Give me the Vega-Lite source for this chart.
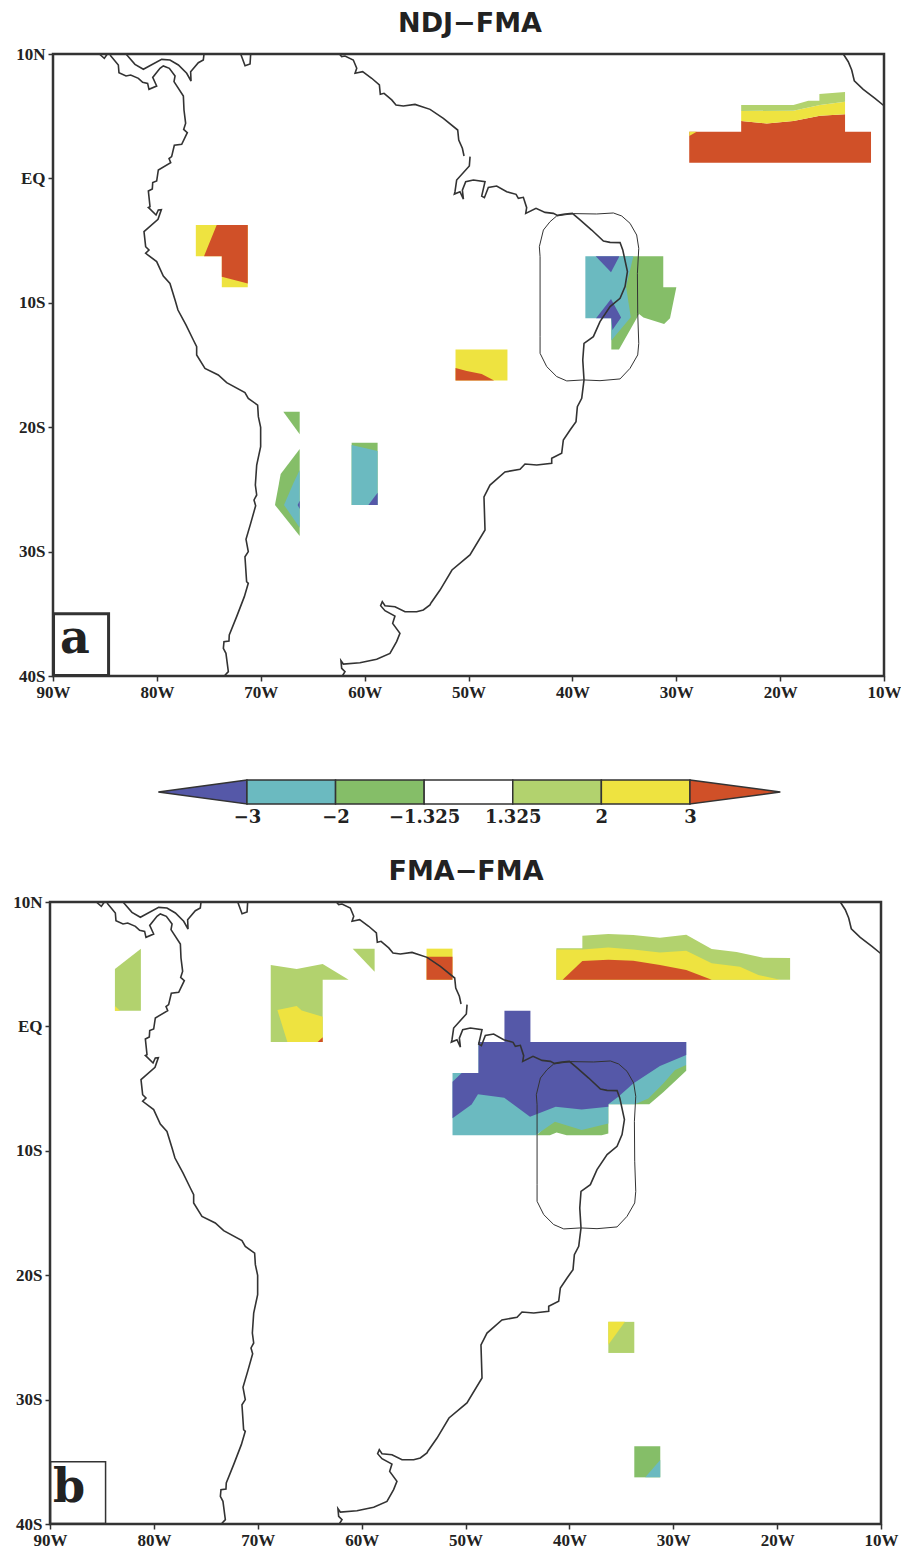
{"$schema":"https://vega.github.io/schema/vega-lite/v6.json","background":"white","padding":{"left":0,"top":10,"right":0,"bottom":0},"align":"none","bounds":"full","spacing":20,"config":{"view":{"stroke":null},"axis":{"domain":false,"tickColor":"#333","tickWidth":1.5,"tickSize":5,"labelFont":"Liberation Serif","labelFontWeight":"bold","labelFontSize":17,"labelColor":"#222","labelPadding":3,"title":null,"grid":false,"labelOverlap":false,"labelBound":false,"labelFlush":false},"title":{"font":"DejaVu Sans","fontWeight":"bold","fontSize":27,"color":"#222","anchor":"middle","offset":7}},"datasets":{"frame":[{"x":-90,"y":10},{"x":-10,"y":10},{"x":-10,"y":-40},{"x":-90,"y":-40}],"coast":[{"g":"isl","x":-85.54,"y":10},{"g":"isl","x":-85.06,"y":9.65},{"g":"isl","x":-84.77,"y":10},{"g":"pac","x":-84.51,"y":9.92},{"g":"pac","x":-83.71,"y":9.12},{"g":"pac","x":-83.65,"y":8.5},{"g":"pac","x":-82.97,"y":8.23},{"g":"pac","x":-82.52,"y":8.31},{"g":"pac","x":-81.78,"y":8.04},{"g":"pac","x":-81.37,"y":7.72},{"g":"pac","x":-80.89,"y":7.64},{"g":"pac","x":-80.76,"y":7.16},{"g":"pac","x":-80.02,"y":7.43},{"g":"pac","x":-80.4,"y":8.12},{"g":"pac","x":-79.7,"y":8.85},{"g":"pac","x":-79.38,"y":9.04},{"g":"pac","x":-78.8,"y":8.85},{"g":"pac","x":-78.25,"y":8.23},{"g":"pac","x":-78.35,"y":7.78},{"g":"pac","x":-77.45,"y":6.62},{"g":"pac","x":-77.39,"y":5.5},{"g":"pac","x":-77.23,"y":4.43},{"g":"pac","x":-77.42,"y":3.94},{"g":"pac","x":-77.07,"y":3.68},{"g":"pac","x":-77.61,"y":2.74},{"g":"pac","x":-78.32,"y":2.66},{"g":"pac","x":-78.58,"y":1.75},{"g":"pac","x":-78.83,"y":1.59},{"g":"pac","x":-78.67,"y":1.26},{"g":"pac","x":-79.86,"y":0.68},{"g":"pac","x":-80.02,"y":-0.21},{"g":"pac","x":-80.4,"y":-0.34},{"g":"pac","x":-80.44,"y":-0.85},{"g":"pac","x":-80.82,"y":-1.01},{"g":"pac","x":-80.66,"y":-2.27},{"g":"pac","x":-80.82,"y":-2.33},{"g":"pac","x":-80.08,"y":-2.94},{"g":"pac","x":-79.86,"y":-2.54},{"g":"pac","x":-79.57,"y":-2.51},{"g":"pac","x":-79.89,"y":-3.29},{"g":"pac","x":-81.24,"y":-4.28},{"g":"pac","x":-81.08,"y":-5.49},{"g":"pac","x":-80.76,"y":-5.76},{"g":"pac","x":-81.08,"y":-6.02},{"g":"pac","x":-80.02,"y":-6.69},{"g":"pac","x":-79.38,"y":-7.85},{"g":"pac","x":-78.74,"y":-8.44},{"g":"pac","x":-78.25,"y":-9.77},{"g":"pac","x":-77.97,"y":-10.58},{"g":"pac","x":-77.2,"y":-11.78},{"g":"pac","x":-76.49,"y":-12.99},{"g":"pac","x":-76.17,"y":-13.53},{"g":"pac","x":-76.17,"y":-14.2},{"g":"pac","x":-75.37,"y":-15.27},{"g":"pac","x":-74.09,"y":-15.8},{"g":"pac","x":-73.28,"y":-16.42},{"g":"pac","x":-71.52,"y":-17.22},{"g":"pac","x":-71.2,"y":-17.68},{"g":"pac","x":-70.3,"y":-18.22},{"g":"pac","x":-70.23,"y":-19.15},{"g":"pac","x":-70.01,"y":-20.01},{"g":"pac","x":-70.01,"y":-21.56},{"g":"pac","x":-70.39,"y":-23.04},{"g":"pac","x":-70.52,"y":-24.65},{"g":"pac","x":-70.39,"y":-25.45},{"g":"pac","x":-70.65,"y":-25.85},{"g":"pac","x":-70.49,"y":-26.31},{"g":"pac","x":-70.97,"y":-27.73},{"g":"pac","x":-71.42,"y":-29.01},{"g":"pac","x":-71.2,"y":-30},{"g":"pac","x":-71.52,"y":-30.41},{"g":"pac","x":-71.36,"y":-32.42},{"g":"pac","x":-71.2,"y":-32.55},{"g":"pac","x":-71.58,"y":-33.62},{"g":"pac","x":-72.32,"y":-35.23},{"g":"pac","x":-73.03,"y":-36.7},{"g":"pac","x":-73.06,"y":-37.19},{"g":"pac","x":-73.54,"y":-37.24},{"g":"pac","x":-73.6,"y":-37.78},{"g":"pac","x":-73.35,"y":-38.18},{"g":"pac","x":-73.12,"y":-39.65},{"g":"pac","x":-73.51,"y":-40},{"g":"car","x":-82.97,"y":10},{"g":"car","x":-82.11,"y":9.17},{"g":"car","x":-81.3,"y":8.77},{"g":"car","x":-79.54,"y":9.57},{"g":"car","x":-78.74,"y":9.52},{"g":"car","x":-77.93,"y":9.12},{"g":"car","x":-77.13,"y":8.45},{"g":"car","x":-76.71,"y":7.83},{"g":"car","x":-76.75,"y":8.58},{"g":"car","x":-76.01,"y":9.3},{"g":"car","x":-75.53,"y":9.52},{"g":"car","x":-75.46,"y":10},{"g":"mar","x":-71.93,"y":10},{"g":"mar","x":-71.51,"y":9.06},{"g":"mar","x":-71.03,"y":9.2},{"g":"mar","x":-70.97,"y":10},{"g":"ven","x":-62.43,"y":10},{"g":"ven","x":-62.21,"y":9.79},{"g":"ven","x":-61.89,"y":9.84},{"g":"ven","x":-61.09,"y":9.52},{"g":"ven","x":-60.76,"y":8.85},{"g":"ven","x":-60.92,"y":8.45},{"g":"ven","x":-60.19,"y":8.58},{"g":"ven","x":-59.32,"y":8.05},{"g":"ven","x":-58.58,"y":7.51},{"g":"ven","x":-58.49,"y":6.76},{"g":"ven","x":-58.13,"y":6.84},{"g":"ven","x":-57.39,"y":6.31},{"g":"ven","x":-56.98,"y":5.9},{"g":"ven","x":-56.27,"y":5.82},{"g":"ven","x":-55.15,"y":5.95},{"g":"ven","x":-53.7,"y":5.55},{"g":"ven","x":-52.42,"y":4.83},{"g":"ven","x":-51.04,"y":3.89},{"g":"ven","x":-50.94,"y":3.09},{"g":"ven","x":-50.59,"y":2.42},{"g":"ven","x":-50.43,"y":1.8},{"g":"bra","x":-49.85,"y":1.75},{"g":"bra","x":-49.92,"y":1},{"g":"bra","x":-51.14,"y":-0.13},{"g":"bra","x":-51.3,"y":-1.07},{"g":"bra","x":-51.36,"y":-1.26},{"g":"bra","x":-50.82,"y":-1.07},{"g":"bra","x":-50.49,"y":-1.66},{"g":"bra","x":-50.59,"y":-0.94},{"g":"bra","x":-50.27,"y":-0.26},{"g":"bra","x":-49.53,"y":-0.13},{"g":"bra","x":-48.41,"y":-0.26},{"g":"bra","x":-48.73,"y":-1.42},{"g":"bra","x":-48.47,"y":-1.55},{"g":"bra","x":-48.09,"y":-0.72},{"g":"bra","x":-47.29,"y":-0.61},{"g":"bra","x":-46.32,"y":-1.07},{"g":"bra","x":-45.42,"y":-1.28},{"g":"bra","x":-45.2,"y":-1.6},{"g":"bra","x":-44.72,"y":-1.52},{"g":"bra","x":-44.4,"y":-2.35},{"g":"bra","x":-44.49,"y":-2.81},{"g":"bra","x":-43.5,"y":-2.41},{"g":"bra","x":-42.63,"y":-2.73},{"g":"bra","x":-41.83,"y":-2.81},{"g":"bra","x":-41.44,"y":-2.97},{"g":"bra","x":-40.71,"y":-2.86},{"g":"bra","x":-40,"y":-2.81},{"g":"bra","x":-39.26,"y":-3.34},{"g":"bra","x":-38.14,"y":-4.15},{"g":"bra","x":-37.01,"y":-5.03},{"g":"bra","x":-36.37,"y":-5.14},{"g":"bra","x":-35.41,"y":-5.16},{"g":"bra","x":-35.15,"y":-5.75},{"g":"bra","x":-34.7,"y":-7.49},{"g":"bra","x":-34.93,"y":-8.7},{"g":"bra","x":-35.41,"y":-9.64},{"g":"bra","x":-36.37,"y":-10.31},{"g":"bra","x":-37.34,"y":-11.51},{"g":"bra","x":-37.98,"y":-12.72},{"g":"bra","x":-38.88,"y":-13.26},{"g":"bra","x":-39,"y":-14.6},{"g":"bra","x":-38.88,"y":-16.2},{"g":"bra","x":-39.1,"y":-17.68},{"g":"bra","x":-39.52,"y":-18.35},{"g":"bra","x":-39.65,"y":-19.55},{"g":"bra","x":-40.22,"y":-20.22},{"g":"bra","x":-40.87,"y":-21.03},{"g":"bra","x":-41.03,"y":-22.1},{"g":"bra","x":-41.99,"y":-22.5},{"g":"bra","x":-41.99,"y":-22.9},{"g":"bra","x":-43.43,"y":-23.04},{"g":"bra","x":-44.56,"y":-22.96},{"g":"bra","x":-45.04,"y":-23.38},{"g":"bra","x":-46.49,"y":-23.6},{"g":"bra","x":-47.93,"y":-24.65},{"g":"bra","x":-48.51,"y":-25.61},{"g":"bra","x":-48.41,"y":-28.26},{"g":"bra","x":-49.86,"y":-30.27},{"g":"bra","x":-51.59,"y":-31.48},{"g":"bra","x":-52.74,"y":-33.09},{"g":"bra","x":-53.61,"y":-34.13},{"g":"bra","x":-53.71,"y":-34.29},{"g":"bra","x":-54.35,"y":-34.69},{"g":"bra","x":-54.99,"y":-34.83},{"g":"bra","x":-56.11,"y":-34.83},{"g":"bra","x":-57.08,"y":-34.43},{"g":"bra","x":-58.04,"y":-34.35},{"g":"bra","x":-58.3,"y":-34.02},{"g":"bra","x":-58.46,"y":-34.35},{"g":"bra","x":-58.04,"y":-34.75},{"g":"bra","x":-57.08,"y":-35.18},{"g":"bra","x":-57.3,"y":-35.77},{"g":"bra","x":-56.6,"y":-36.57},{"g":"bra","x":-56.92,"y":-37.24},{"g":"bra","x":-57.56,"y":-38.18},{"g":"bra","x":-58.84,"y":-38.66},{"g":"bra","x":-60.45,"y":-38.93},{"g":"bra","x":-62.05,"y":-39.04},{"g":"bra","x":-62.28,"y":-38.77},{"g":"bra","x":-62.21,"y":-39.38},{"g":"bra","x":-61.89,"y":-39.65},{"g":"bra","x":-62.15,"y":-40},{"g":"afr","x":-13.92,"y":10},{"g":"afr","x":-13.44,"y":9.38},{"g":"afr","x":-13.11,"y":8.71},{"g":"afr","x":-12.86,"y":7.85},{"g":"afr","x":-12,"y":7.16},{"g":"afr","x":-10.87,"y":6.44},{"g":"afr","x":-10,"y":5.84}],"region":[{"x":-41.51,"y":-3.02},{"x":-39.9,"y":-2.83},{"x":-37.66,"y":-2.86},{"x":-36.05,"y":-2.78},{"x":-35.25,"y":-3.02},{"x":-34.45,"y":-3.61},{"x":-33.81,"y":-4.55},{"x":-33.61,"y":-5.62},{"x":-33.74,"y":-7.63},{"x":-33.71,"y":-10.84},{"x":-33.61,"y":-13.26},{"x":-33.71,"y":-14.19},{"x":-34.45,"y":-15.27},{"x":-35.41,"y":-16.12},{"x":-37.34,"y":-16.26},{"x":-38.94,"y":-16.2},{"x":-40.54,"y":-16.28},{"x":-41.51,"y":-15.93},{"x":-42.47,"y":-15.13},{"x":-43.11,"y":-14.06},{"x":-43.11,"y":-12.72},{"x":-43.11,"y":-6.29},{"x":-43.18,"y":-5.49},{"x":-42.79,"y":-4.15},{"x":-42.15,"y":-3.48}],"labelbox":[{"x":-89.95,"y":-35},{"x":-84.65,"y":-35},{"x":-84.65,"y":-39.95},{"x":-89.95,"y":-39.95}],"shapesA":[{"g":"a1","c":"y","x":-76.25,"y":-3.75},{"g":"a1","c":"y","x":-71.25,"y":-3.75},{"g":"a1","c":"y","x":-71.25,"y":-8.75},{"g":"a1","c":"y","x":-73.75,"y":-8.75},{"g":"a1","c":"y","x":-73.75,"y":-6.25},{"g":"a1","c":"y","x":-76.25,"y":-6.25},{"g":"a2","c":"r","x":-74.24,"y":-3.75},{"g":"a2","c":"r","x":-71.25,"y":-3.75},{"g":"a2","c":"r","x":-71.25,"y":-8.44},{"g":"a2","c":"r","x":-73.75,"y":-7.9},{"g":"a2","c":"r","x":-73.75,"y":-6.25},{"g":"a2","c":"r","x":-75.46,"y":-6.25},{"g":"a3","c":"y","x":-51.25,"y":-13.75},{"g":"a3","c":"y","x":-46.25,"y":-13.75},{"g":"a3","c":"y","x":-46.25,"y":-16.25},{"g":"a3","c":"y","x":-51.25,"y":-16.25},{"g":"a4","c":"r","x":-51.25,"y":-15.24},{"g":"a4","c":"r","x":-50.17,"y":-15.48},{"g":"a4","c":"r","x":-48.73,"y":-15.72},{"g":"a4","c":"r","x":-47.54,"y":-16.25},{"g":"a4","c":"r","x":-51.25,"y":-16.25},{"g":"a5","c":"g","x":-35.41,"y":-6.25},{"g":"a5","c":"g","x":-31.25,"y":-6.25},{"g":"a5","c":"g","x":-31.25,"y":-8.75},{"g":"a5","c":"g","x":-29.99,"y":-8.75},{"g":"a5","c":"g","x":-30.6,"y":-11.25},{"g":"a5","c":"g","x":-31.17,"y":-11.7},{"g":"a5","c":"g","x":-33.16,"y":-11.19},{"g":"a5","c":"g","x":-33.58,"y":-10.9},{"g":"a5","c":"g","x":-35.51,"y":-13.75},{"g":"a5","c":"g","x":-36.25,"y":-13.75},{"g":"a5","c":"g","x":-36.25,"y":-11.25},{"g":"a5","c":"g","x":-35.41,"y":-11.25},{"g":"a6","c":"t","x":-38.75,"y":-6.25},{"g":"a6","c":"t","x":-34.13,"y":-6.25},{"g":"a6","c":"t","x":-34.83,"y":-8.7},{"g":"a6","c":"t","x":-34.38,"y":-11.17},{"g":"a6","c":"t","x":-36.25,"y":-13.04},{"g":"a6","c":"t","x":-36.25,"y":-11.25},{"g":"a6","c":"t","x":-38.75,"y":-11.25},{"g":"a7","c":"b","x":-37.75,"y":-6.25},{"g":"a7","c":"b","x":-35.47,"y":-6.25},{"g":"a7","c":"b","x":-36.28,"y":-7.55},{"g":"a8","c":"b","x":-37.72,"y":-11.25},{"g":"a8","c":"b","x":-36.28,"y":-9.69},{"g":"a8","c":"b","x":-35.31,"y":-11.19},{"g":"a8","c":"b","x":-36.15,"y":-12.18},{"g":"a8","c":"b","x":-36.25,"y":-11.25},{"g":"a9","c":"r","x":-28.75,"y":3.75},{"g":"a9","c":"r","x":-23.75,"y":3.75},{"g":"a9","c":"r","x":-23.75,"y":4.61},{"g":"a9","c":"r","x":-21.29,"y":4.42},{"g":"a9","c":"r","x":-18.72,"y":4.61},{"g":"a9","c":"r","x":-16.16,"y":5.04},{"g":"a9","c":"r","x":-13.75,"y":5.15},{"g":"a9","c":"r","x":-13.75,"y":3.75},{"g":"a9","c":"r","x":-11.25,"y":3.75},{"g":"a9","c":"r","x":-11.25,"y":1.25},{"g":"a9","c":"r","x":-28.75,"y":1.25},{"g":"a10","c":"y","x":-28.75,"y":3.75},{"g":"a10","c":"y","x":-28.03,"y":3.75},{"g":"a10","c":"y","x":-28.75,"y":3.41},{"g":"a11","c":"y","x":-23.75,"y":5.42},{"g":"a11","c":"y","x":-18.72,"y":5.44},{"g":"a11","c":"y","x":-16.16,"y":5.9},{"g":"a11","c":"y","x":-13.75,"y":6.17},{"g":"a11","c":"y","x":-13.75,"y":5.15},{"g":"a11","c":"y","x":-16.16,"y":5.04},{"g":"a11","c":"y","x":-18.72,"y":4.61},{"g":"a11","c":"y","x":-21.29,"y":4.42},{"g":"a11","c":"y","x":-23.75,"y":4.61},{"g":"a12","c":"l","x":-23.75,"y":5.9},{"g":"a12","c":"l","x":-18.72,"y":5.9},{"g":"a12","c":"l","x":-17.28,"y":6.25},{"g":"a12","c":"l","x":-16.22,"y":6.25},{"g":"a12","c":"l","x":-16.22,"y":6.78},{"g":"a12","c":"l","x":-13.75,"y":6.95},{"g":"a12","c":"l","x":-13.75,"y":6.17},{"g":"a12","c":"l","x":-16.16,"y":5.9},{"g":"a12","c":"l","x":-18.72,"y":5.44},{"g":"a12","c":"l","x":-23.75,"y":5.42},{"g":"a13","c":"g","x":-67.83,"y":-18.75},{"g":"a13","c":"g","x":-66.25,"y":-18.75},{"g":"a13","c":"g","x":-66.25,"y":-20.57},{"g":"a14","c":"g","x":-66.25,"y":-21.75},{"g":"a14","c":"g","x":-68.08,"y":-23.76},{"g":"a14","c":"g","x":-68.63,"y":-26.25},{"g":"a14","c":"g","x":-66.25,"y":-28.75},{"g":"a15","c":"t","x":-66.25,"y":-23.44},{"g":"a15","c":"t","x":-66.86,"y":-24.51},{"g":"a15","c":"t","x":-67.76,"y":-26.25},{"g":"a15","c":"t","x":-66.25,"y":-28.08},{"g":"a16","c":"b","x":-66.25,"y":-25.91},{"g":"a16","c":"b","x":-66.45,"y":-26.25},{"g":"a16","c":"b","x":-66.25,"y":-26.58},{"g":"a17","c":"g","x":-61.25,"y":-21.25},{"g":"a17","c":"g","x":-58.75,"y":-21.25},{"g":"a17","c":"g","x":-58.75,"y":-26.25},{"g":"a17","c":"g","x":-61.25,"y":-26.25},{"g":"a18","c":"t","x":-61.25,"y":-21.43},{"g":"a18","c":"t","x":-58.75,"y":-21.91},{"g":"a18","c":"t","x":-58.75,"y":-26.25},{"g":"a18","c":"t","x":-61.25,"y":-26.25},{"g":"a19","c":"b","x":-58.75,"y":-25.26},{"g":"a19","c":"b","x":-58.75,"y":-26.25},{"g":"a19","c":"b","x":-59.64,"y":-26.25}],"shapesB":[{"g":"b1","c":"l","x":-81.25,"y":6.25},{"g":"b1","c":"l","x":-81.25,"y":1.25},{"g":"b1","c":"l","x":-83.75,"y":1.25},{"g":"b1","c":"l","x":-83.75,"y":4.62},{"g":"b2","c":"y","x":-83.75,"y":1.64},{"g":"b2","c":"y","x":-83.26,"y":1.25},{"g":"b2","c":"y","x":-83.75,"y":1.25},{"g":"b3","c":"l","x":-68.75,"y":4.94},{"g":"b3","c":"l","x":-66.25,"y":4.62},{"g":"b3","c":"l","x":-63.75,"y":5.02},{"g":"b3","c":"l","x":-61.25,"y":3.75},{"g":"b3","c":"l","x":-63.75,"y":3.75},{"g":"b3","c":"l","x":-63.75,"y":-1.25},{"g":"b3","c":"l","x":-68.75,"y":-1.25},{"g":"b4","c":"y","x":-68.11,"y":1.32},{"g":"b4","c":"y","x":-66.25,"y":1.64},{"g":"b4","c":"y","x":-65.77,"y":1.27},{"g":"b4","c":"y","x":-63.75,"y":0.78},{"g":"b4","c":"y","x":-63.75,"y":-1.25},{"g":"b4","c":"y","x":-67.15,"y":-1.25},{"g":"b5","c":"r","x":-63.75,"y":-0.88},{"g":"b5","c":"r","x":-63.75,"y":-1.25},{"g":"b5","c":"r","x":-64.23,"y":-1.25},{"g":"b6","c":"l","x":-60.86,"y":6.25},{"g":"b6","c":"l","x":-58.75,"y":6.25},{"g":"b6","c":"l","x":-58.75,"y":4.4},{"g":"b7","c":"y","x":-53.75,"y":6.25},{"g":"b7","c":"y","x":-51.25,"y":6.25},{"g":"b7","c":"y","x":-51.25,"y":3.75},{"g":"b7","c":"y","x":-53.75,"y":3.75},{"g":"b8","c":"r","x":-53.75,"y":5.6},{"g":"b8","c":"r","x":-51.25,"y":5.6},{"g":"b8","c":"r","x":-51.25,"y":3.75},{"g":"b8","c":"r","x":-53.75,"y":3.75},{"g":"b9","c":"l","x":-41.25,"y":6.28},{"g":"b9","c":"l","x":-38.75,"y":6.28},{"g":"b9","c":"l","x":-38.75,"y":7.29},{"g":"b9","c":"l","x":-36.25,"y":7.43},{"g":"b9","c":"l","x":-33.85,"y":7.35},{"g":"b9","c":"l","x":-31.28,"y":7.13},{"g":"b9","c":"l","x":-28.75,"y":7.37},{"g":"b9","c":"l","x":-26.3,"y":6.22},{"g":"b9","c":"l","x":-23.9,"y":5.98},{"g":"b9","c":"l","x":-21.33,"y":5.52},{"g":"b9","c":"l","x":-18.75,"y":5.5},{"g":"b9","c":"l","x":-18.75,"y":3.75},{"g":"b9","c":"l","x":-41.25,"y":3.75},{"g":"b10","c":"y","x":-41.25,"y":6.19},{"g":"b10","c":"y","x":-38.75,"y":6.19},{"g":"b10","c":"y","x":-36.25,"y":6.35},{"g":"b10","c":"y","x":-33.85,"y":6.19},{"g":"b10","c":"y","x":-31.28,"y":5.95},{"g":"b10","c":"y","x":-28.75,"y":6.08},{"g":"b10","c":"y","x":-26.3,"y":5.07},{"g":"b10","c":"y","x":-23.58,"y":4.8},{"g":"b10","c":"y","x":-21.81,"y":4.13},{"g":"b10","c":"y","x":-19.72,"y":3.75},{"g":"b10","c":"y","x":-41.25,"y":3.75},{"g":"b11","c":"r","x":-40.65,"y":3.75},{"g":"b11","c":"r","x":-38.75,"y":5.25},{"g":"b11","c":"r","x":-36.25,"y":5.36},{"g":"b11","c":"r","x":-33.85,"y":5.28},{"g":"b11","c":"r","x":-31.28,"y":4.93},{"g":"b11","c":"r","x":-28.75,"y":4.53},{"g":"b11","c":"r","x":-26.3,"y":3.75},{"g":"b12","c":"g","x":-43.15,"y":-8.75},{"g":"b12","c":"g","x":-41.87,"y":-8.75},{"g":"b12","c":"g","x":-41.23,"y":-8.52},{"g":"b12","c":"g","x":-40.26,"y":-8.75},{"g":"b12","c":"g","x":-36.89,"y":-8.75},{"g":"b12","c":"g","x":-36.25,"y":-8.6},{"g":"b12","c":"g","x":-36.25,"y":-6.25},{"g":"b12","c":"g","x":-32.31,"y":-6.25},{"g":"b12","c":"g","x":-30.96,"y":-5.3},{"g":"b12","c":"g","x":-28.75,"y":-3.56},{"g":"b12","c":"g","x":-28.75,"y":-3.1},{"g":"b12","c":"g","x":-36.25,"y":-3.1},{"g":"b13","c":"t","x":-51.25,"y":-3.75},{"g":"b13","c":"t","x":-48.75,"y":-3.75},{"g":"b13","c":"t","x":-48.75,"y":-1.25},{"g":"b13","c":"t","x":-28.75,"y":-1.25},{"g":"b13","c":"t","x":-28.75,"y":-3.1},{"g":"b13","c":"t","x":-29.83,"y":-3.5},{"g":"b13","c":"t","x":-30.96,"y":-4.58},{"g":"b13","c":"t","x":-32.4,"y":-5.79},{"g":"b13","c":"t","x":-33.68,"y":-6.25},{"g":"b13","c":"t","x":-36.25,"y":-6.25},{"g":"b13","c":"t","x":-36.25,"y":-7.8},{"g":"b13","c":"t","x":-38.82,"y":-8.33},{"g":"b13","c":"t","x":-41.39,"y":-7.66},{"g":"b13","c":"t","x":-43.15,"y":-8.68},{"g":"b13","c":"t","x":-43.15,"y":-8.75},{"g":"b13","c":"t","x":-51.25,"y":-8.75},{"g":"b14","c":"b","x":-51.25,"y":-4.44},{"g":"b14","c":"b","x":-50.37,"y":-3.75},{"g":"b14","c":"b","x":-48.75,"y":-3.75},{"g":"b14","c":"b","x":-48.75,"y":-1.25},{"g":"b14","c":"b","x":-46.25,"y":-1.25},{"g":"b14","c":"b","x":-46.25,"y":1.25},{"g":"b14","c":"b","x":-43.75,"y":1.25},{"g":"b14","c":"b","x":-43.75,"y":-1.25},{"g":"b14","c":"b","x":-28.75,"y":-1.25},{"g":"b14","c":"b","x":-28.75,"y":-2.3},{"g":"b14","c":"b","x":-31.28,"y":-3.19},{"g":"b14","c":"b","x":-33.85,"y":-4.58},{"g":"b14","c":"b","x":-35.29,"y":-5.65},{"g":"b14","c":"b","x":-36.25,"y":-6.25},{"g":"b14","c":"b","x":-36.25,"y":-6.45},{"g":"b14","c":"b","x":-38.82,"y":-6.67},{"g":"b14","c":"b","x":-41.32,"y":-6.45},{"g":"b14","c":"b","x":-43.79,"y":-7.26},{"g":"b14","c":"b","x":-46.27,"y":-5.73},{"g":"b14","c":"b","x":-48.8,"y":-5.46},{"g":"b14","c":"b","x":-49.41,"y":-6.27},{"g":"b14","c":"b","x":-51.25,"y":-7.39},{"g":"b15","c":"l","x":-36.25,"y":-23.75},{"g":"b15","c":"l","x":-33.75,"y":-23.75},{"g":"b15","c":"l","x":-33.75,"y":-26.25},{"g":"b15","c":"l","x":-36.25,"y":-26.25},{"g":"b16","c":"y","x":-36.25,"y":-23.75},{"g":"b16","c":"y","x":-34.65,"y":-23.75},{"g":"b16","c":"y","x":-36.25,"y":-25.6},{"g":"b17","c":"g","x":-33.75,"y":-33.75},{"g":"b17","c":"g","x":-31.25,"y":-33.75},{"g":"b17","c":"g","x":-31.25,"y":-36.25},{"g":"b17","c":"g","x":-33.75,"y":-36.25},{"g":"b18","c":"t","x":-31.25,"y":-34.86},{"g":"b18","c":"t","x":-31.25,"y":-36.25},{"g":"b18","c":"t","x":-32.7,"y":-36.25}],"bar":[{"g":"c1","c":"b","x":-2.5,"y":1},{"g":"c1","c":"b","x":-3.5,"y":0.5},{"g":"c1","c":"b","x":-2.5,"y":0},{"g":"c2","c":"t","x":-2.5,"y":1},{"g":"c2","c":"t","x":-1.5,"y":1},{"g":"c2","c":"t","x":-1.5,"y":0},{"g":"c2","c":"t","x":-2.5,"y":0},{"g":"c3","c":"g","x":-1.5,"y":1},{"g":"c3","c":"g","x":-0.5,"y":1},{"g":"c3","c":"g","x":-0.5,"y":0},{"g":"c3","c":"g","x":-1.5,"y":0},{"g":"c4","c":"w","x":-0.5,"y":1},{"g":"c4","c":"w","x":0.5,"y":1},{"g":"c4","c":"w","x":0.5,"y":0},{"g":"c4","c":"w","x":-0.5,"y":0},{"g":"c5","c":"l","x":0.5,"y":1},{"g":"c5","c":"l","x":1.5,"y":1},{"g":"c5","c":"l","x":1.5,"y":0},{"g":"c5","c":"l","x":0.5,"y":0},{"g":"c6","c":"y","x":1.5,"y":1},{"g":"c6","c":"y","x":2.5,"y":1},{"g":"c6","c":"y","x":2.5,"y":0},{"g":"c6","c":"y","x":1.5,"y":0},{"g":"c7","c":"r","x":2.5,"y":1},{"g":"c7","c":"r","x":3.52,"y":0.5},{"g":"c7","c":"r","x":2.5,"y":0}]},"vconcat":[{"width":834,"height":622,"title":{"text":"NDJ−FMA","dx":3},"encoding":{"x":{"field":"x","type":"quantitative","scale":{"domain":[-90,-10],"range":[3,834],"nice":false,"zero":false},"axis":{"values":[-90,-80,-70,-60,-50,-40,-30,-20,-10],"labelExpr":"abs(datum.value)+'W'"}},"y":{"field":"y","type":"quantitative","scale":{"domain":[-40,10],"nice":false,"zero":false},"axis":{"values":[-40,-30,-20,-10,0,10],"minExtent":49.5,"offset":-3,"labelExpr":"datum.value==0?'EQ':abs(datum.value)+(datum.value>0?'N':'S')"}},"order":{"value":null}},"layer":[{"data":{"name":"shapesA"},"mark":{"type":"line","interpolate":"linear-closed","strokeWidth":0,"stroke":null},"encoding":{"fill":{"field":"c","type":"nominal","legend":null,"scale":{"domain":["b","t","g","w","l","y","r"],"range":["#5558A8","#6BBAC0","#85BE68","#FFFFFF","#B2D26E","#EEE340","#D05028"]}},"detail":{"field":"g"}}},{"data":{"name":"region"},"mark":{"type":"line","interpolate":"linear-closed","stroke":"#333","strokeWidth":1}},{"data":{"name":"coast"},"mark":{"type":"line","stroke":"#333","strokeWidth":1.6},"encoding":{"detail":{"field":"g"}}},{"data":{"name":"labelbox"},"mark":{"type":"line","interpolate":"linear-closed","stroke":"#333","strokeWidth":3}},{"data":{"name":"frame"},"mark":{"type":"line","interpolate":"linear-closed","stroke":"#333","strokeWidth":2.5}},{"data":{"values":[{"x":-87.9,"y":-38.15,"t":"a"}]},"mark":{"type":"text","font":"DejaVu Serif","fontWeight":"bold","fontSize":46,"color":"#222","baseline":"alphabetic"},"encoding":{"text":{"field":"t"}}}]},{"width":834,"height":118,"data":{"name":"bar"},"mark":{"type":"line","interpolate":"linear-closed","stroke":"#333","strokeWidth":1.5},"encoding":{"x":{"field":"x","type":"quantitative","scale":{"domain":[-4.723,4.69],"nice":false,"zero":false},"axis":{"values":[-2.5,-1.5,-0.5,0.5,1.5,2.5],"ticks":false,"offset":-32,"labelPadding":2,"labelFont":"DejaVu Serif","labelFontSize":18,"labelExpr":"datum.value==-2.5?'−3':datum.value==-1.5?'−2':datum.value==-0.5?'−1.325':datum.value==0.5?'1.325':datum.value==1.5?'2':'3'"}},"y":{"field":"y","type":"quantitative","scale":{"domain":[-1.417,3.5],"nice":false,"zero":false},"axis":{"labels":false,"ticks":false,"minExtent":49.5}},"order":{"value":null},"fill":{"field":"c","type":"nominal","legend":null,"scale":{"domain":["b","t","g","w","l","y","r"],"range":["#5558A8","#6BBAC0","#85BE68","#FFFFFF","#B2D26E","#EEE340","#D05028"]}},"detail":{"field":"g"}}},{"width":834,"height":622,"title":{"text":"FMA−FMA","dx":-1},"encoding":{"x":{"field":"x","type":"quantitative","scale":{"domain":[-90,-10],"range":[0,831],"nice":false,"zero":false},"axis":{"values":[-90,-80,-70,-60,-50,-40,-30,-20,-10],"labelExpr":"abs(datum.value)+'W'"}},"y":{"field":"y","type":"quantitative","scale":{"domain":[-40,10],"nice":false,"zero":false},"axis":{"values":[-40,-30,-20,-10,0,10],"minExtent":49.5,"labelExpr":"datum.value==0?'EQ':abs(datum.value)+(datum.value>0?'N':'S')"}},"order":{"value":null}},"layer":[{"data":{"name":"shapesB"},"mark":{"type":"line","interpolate":"linear-closed","strokeWidth":0,"stroke":null},"encoding":{"fill":{"field":"c","type":"nominal","legend":null,"scale":{"domain":["b","t","g","w","l","y","r"],"range":["#5558A8","#6BBAC0","#85BE68","#FFFFFF","#B2D26E","#EEE340","#D05028"]}},"detail":{"field":"g"}}},{"data":{"name":"region"},"mark":{"type":"line","interpolate":"linear-closed","stroke":"#333","strokeWidth":1}},{"data":{"name":"coast"},"mark":{"type":"line","stroke":"#333","strokeWidth":1.6},"encoding":{"detail":{"field":"g"}}},{"data":{"name":"labelbox"},"mark":{"type":"line","interpolate":"linear-closed","stroke":"#333","strokeWidth":1.5}},{"data":{"name":"frame"},"mark":{"type":"line","interpolate":"linear-closed","stroke":"#333","strokeWidth":2.5}},{"data":{"values":[{"x":-88.17,"y":-38.23,"t":"b"}]},"mark":{"type":"text","font":"DejaVu Serif","fontWeight":"bold","fontSize":46,"color":"#222","baseline":"alphabetic"},"encoding":{"text":{"field":"t"}}}]}]}
